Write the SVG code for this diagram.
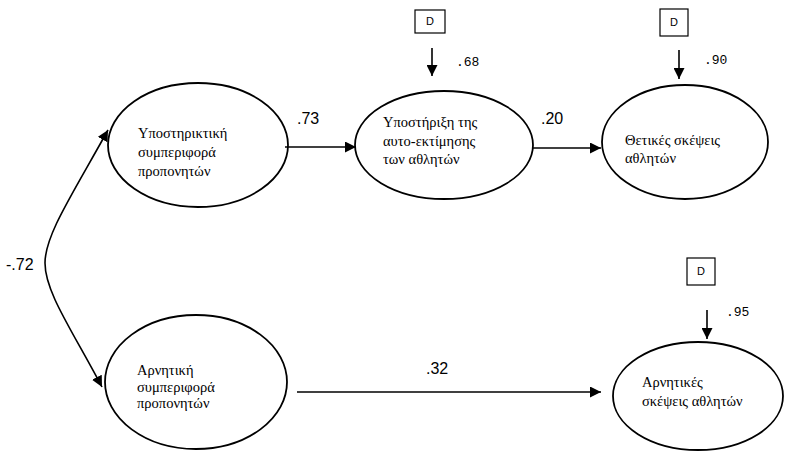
<svg xmlns="http://www.w3.org/2000/svg" width="786" height="461" viewBox="0 0 786 461">
<style>
.node ellipse{fill:#fff;stroke:#000;stroke-width:1.8}
.lbl{font-family:"Liberation Serif","Times New Roman",serif;font-size:14.5px;fill:#000}
.num{font-family:"Liberation Sans",Arial,sans-serif;font-size:16px;fill:#000}
.err{font-family:"Liberation Mono","Courier New",monospace;font-size:13px;fill:#000}
.dbox rect{fill:#fff;stroke:#000;stroke-width:1.2}
.dbox text{font-family:"Liberation Sans",Arial,sans-serif;font-size:11px;fill:#000;text-anchor:middle}
.conn path,.conn line{stroke:#000;stroke-width:1.6;fill:none}
</style>
<defs>
<marker id="ah" viewBox="0 0 10 10" refX="10" refY="5" markerWidth="11" markerHeight="11" markerUnits="userSpaceOnUse" orient="auto-start-reverse">
<path d="M0,0 L10,5 L0,10 z" fill="#000"/>
</marker>
</defs>
<rect width="786" height="461" fill="#fff"/>

<g id="n1" class="node">
<ellipse cx="198" cy="145" rx="90" ry="62"/>
<text class="lbl" x="138" y="138">Υποστηρικτική</text>
<text class="lbl" x="138" y="157">συμπεριφορά</text>
<text class="lbl" x="138" y="176">προπονητών</text>
</g>
<g id="n2" class="node">
<ellipse cx="444" cy="145" rx="89" ry="54"/>
<text class="lbl" x="383" y="127">Υποστήριξη της</text>
<text class="lbl" x="383" y="146">αυτο-εκτίμησης</text>
<text class="lbl" x="383" y="164">των αθλητών</text>
</g>
<g id="n3" class="node">
<ellipse cx="685" cy="142" rx="83" ry="57"/>
<text class="lbl" x="625" y="145">Θετικές σκέψεις</text>
<text class="lbl" x="625" y="163">αθλητών</text>
</g>
<g id="n4" class="node">
<ellipse cx="196" cy="382" rx="91" ry="67"/>
<text class="lbl" x="137" y="375">Αρνητική</text>
<text class="lbl" x="137" y="392">συμπεριφορά</text>
<text class="lbl" x="137" y="408">προπονητών</text>
</g>
<g id="n5" class="node">
<ellipse cx="698" cy="396" rx="85" ry="54"/>
<text class="lbl" x="642" y="387">Αρνητικές</text>
<text class="lbl" x="642" y="406">σκέψεις αθλητών</text>
</g>

<g id="d2" class="dbox"><rect x="415" y="10" width="30" height="23"/><text x="430" y="25">D</text></g>
<g id="d3" class="dbox"><rect x="660" y="9" width="28" height="27"/><text x="674" y="26">D</text></g>
<g id="d5" class="dbox"><rect x="687" y="258" width="28" height="27"/><text x="701" y="275">D</text></g>

<g id="connectors" class="conn">
<line x1="285" y1="147" x2="356" y2="147" marker-end="url(#ah)"/>
<line x1="533" y1="148" x2="601" y2="148" marker-end="url(#ah)"/>
<line x1="297" y1="392" x2="601" y2="392" marker-end="url(#ah)"/>
<path d="M108,130 C72,195 45,235 45,263 C45,292 72,330 102,387" marker-start="url(#ah)" marker-end="url(#ah)"/>
<line x1="432" y1="48" x2="432" y2="76" marker-end="url(#ah)"/>
<line x1="679" y1="50" x2="679" y2="79" marker-end="url(#ah)"/>
<line x1="707" y1="310" x2="707" y2="339" marker-end="url(#ah)"/>
</g>

<g id="labels">
<text class="num" x="297" y="124">.73</text>
<text class="num" x="541" y="124">.20</text>
<text class="num" x="426" y="374">.32</text>
<text class="num" x="6" y="270">-.72</text>
<text class="err" x="456" y="66">.68</text>
<text class="err" x="704" y="64">.90</text>
<text class="err" x="726" y="316">.95</text>
</g>
</svg>
